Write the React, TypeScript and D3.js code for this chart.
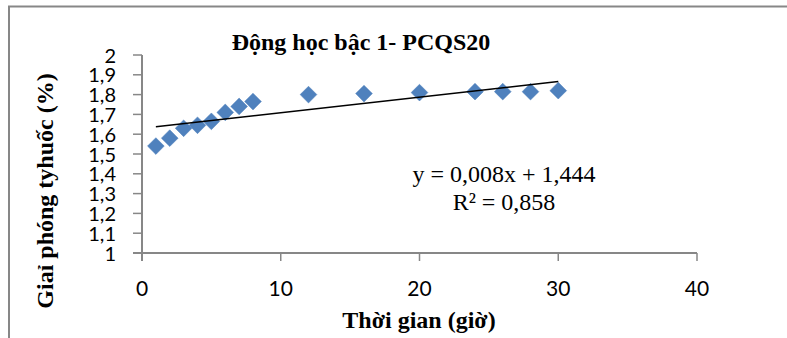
import * as d3 from 'd3';

// data
const hours = [1, 2, 3, 4, 5, 6, 7, 8, 12, 16, 20, 24, 26, 28, 30];
const release = [1.54, 1.58, 1.63, 1.645, 1.665, 1.71, 1.74, 1.765, 1.8, 1.805, 1.81, 1.815, 1.815, 1.815, 1.82];
const xTicks = [0, 10, 20, 30, 40];
const yTicks = [1, 1.1, 1.2, 1.3, 1.4, 1.5, 1.6, 1.7, 1.8, 1.9, 2];

const title = 'Động học bậc 1- PCQS20';
const xTitle = 'Thời gian (giờ)';
const yTitle = 'Giaỉ phóng tyhuốc (%)';
const eqLines = ['y = 0,008x + 1,444', 'R² = 0,858'];

const W = 787;
const H = 338;
const SERIF = '"Liberation Serif", "Times New Roman", serif';
const SANS = 'Lato, "Open Sans", sans-serif';
const AXIS = '#878787';
const BLUE = '#4F81BD';

export default function App() {
  const x = d3.scaleLinear().domain([0, 40]).range([142, 697]);
  const y = d3.scaleLinear().domain([1, 2]).range([253, 55]);

  // least squares trend line through the points
  const mx = d3.mean(hours) as number;
  const my = d3.mean(release) as number;
  const sxy = d3.sum(hours, (h, i) => (h - mx) * (release[i] - my));
  const sxx = d3.sum(hours, (h) => (h - mx) ** 2);
  const slope = sxy / sxx;
  const icpt = my - slope * mx;
  const x0 = hours[0];
  const x1 = hours[hours.length - 1];
  const trend = d3.line<number>().x((d) => x(d)).y((d) => y(icpt + slope * d))([x0, x1]);

  const diamond = d3.symbol(d3.symbolSquare, 140)() as string;
  const fmt = (v: number) => (v === 1 || v === 2 ? String(v) : v.toFixed(1).replace('.', ','));

  return (
    <svg width={W} height={H} style={{ position: 'absolute', left: 0, top: 0, background: '#fff' }}>
      {/* chart frame, runs off the right and bottom edges */}
      <rect x={9} y={6.5} width={900} height={500} fill="none" stroke={AXIS} strokeWidth={2} />

      <text x={361} y={50} textAnchor="middle" fontFamily={SERIF} fontWeight="bold" fontSize={24}>
        {title}
      </text>

      {/* y axis */}
      <line x1={x(0)} x2={x(0)} y1={y(2)} y2={y(1) + 8} stroke={AXIS} strokeWidth={2} />
      {yTicks.map((t) => (
        <g key={t}>
          <line x1={x(0) - 9} x2={x(0)} y1={y(t)} y2={y(t)} stroke={AXIS} strokeWidth={1.5} />
          <text x={116} y={y(t) + 7.5} textAnchor="end" fontFamily={SANS} fontSize={20}>
            {fmt(t)}
          </text>
        </g>
      ))}

      {/* x axis */}
      <line x1={x(0) - 9} x2={x(40)} y1={y(1)} y2={y(1)} stroke={AXIS} strokeWidth={2} />
      {xTicks.map((t) => (
        <g key={t}>
          <line x1={x(t)} x2={x(t)} y1={y(1)} y2={y(1) + 8} stroke={AXIS} strokeWidth={1.5} />
          <text x={x(t)} y={296} textAnchor="middle" fontFamily={SANS} fontSize={21}>
            {t}
          </text>
        </g>
      ))}

      {hours.map((h, i) => (
        <path
          key={h}
          d={diamond}
          transform={`translate(${x(h)},${y(release[i])}) rotate(45)`}
          fill={BLUE}
          stroke={BLUE}
          strokeWidth={0.5}
        />
      ))}

      <path d={trend ?? ''} fill="none" stroke="#000" strokeWidth={1.6} />

      {eqLines.map((s, i) => (
        <text key={s} x={504} y={182 + i * 28} textAnchor="middle" fontFamily={SERIF} fontSize={24}>
          {s}
        </text>
      ))}

      <text x={419} y={328} textAnchor="middle" fontFamily={SERIF} fontWeight="bold" fontSize={24}>
        {xTitle}
      </text>
      <text
        transform={`translate(53,191) rotate(-90)`}
        textAnchor="middle"
        fontFamily={SERIF}
        fontWeight="bold"
        fontSize={24}
      >
        {yTitle}
      </text>
    </svg>
  );
}
